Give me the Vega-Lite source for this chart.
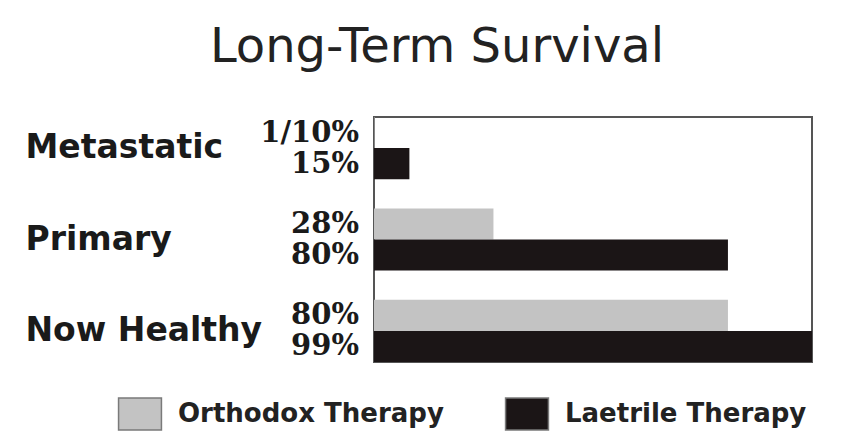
{
  "$schema": "https://vega.github.io/schema/vega-lite/v6.json",
  "width": 438,
  "height": 245,
  "autosize": {"type": "none"},
  "padding": {"left": 374, "top": 117, "right": 31, "bottom": 82},
  "background": "#ffffff",
  "title": {
    "text": "Long-Term Survival",
    "font": "DejaVu Sans",
    "fontSize": 48,
    "fontWeight": "normal",
    "color": "#222222",
    "anchor": "middle",
    "frame": "group",
    "dx": -156,
    "dy": 45,
    "baseline": "alphabetic",
    "offset": 52
  },
  "config": {
    "view": {"stroke": "#555555", "strokeWidth": 2},
    "legend": {"padding": 0}
  },
  "data": {
    "values": [
      {"category": "Metastatic", "therapy": "Orthodox Therapy", "value": 0.1, "label": "1/10%"},
      {"category": "Metastatic", "therapy": "Laetrile Therapy", "value": 8, "label": "15%"},
      {"category": "Primary", "therapy": "Orthodox Therapy", "value": 27, "label": "28%"},
      {"category": "Primary", "therapy": "Laetrile Therapy", "value": 80, "label": "80%"},
      {"category": "Now Healthy", "therapy": "Orthodox Therapy", "value": 80, "label": "80%"},
      {"category": "Now Healthy", "therapy": "Laetrile Therapy", "value": 99, "label": "99%"}
    ]
  },
  "encoding": {
    "y": {
      "field": "category",
      "type": "nominal",
      "sort": ["Metastatic", "Primary", "Now Healthy"],
      "scale": {"paddingInner": 0.32, "paddingOuter": 0},
      "axis": {
        "title": null,
        "domain": false,
        "ticks": false,
        "labelAlign": "left",
        "labelBaseline": "middle",
        "labelPadding": 349,
        "labelLimit": 400,
        "labelFont": "DejaVu Sans",
        "labelFontWeight": "bold",
        "labelFontSize": 33,
        "labelColor": "#1a1a1a"
      }
    },
    "yOffset": {
      "field": "therapy",
      "type": "nominal",
      "sort": ["Orthodox Therapy", "Laetrile Therapy"]
    }
  },
  "layer": [
    {
      "mark": {"type": "bar"},
      "encoding": {
        "x": {
          "field": "value",
          "type": "quantitative",
          "scale": {"domain": [0, 99], "nice": false},
          "axis": null
        },
        "color": {
          "field": "therapy",
          "type": "nominal",
          "scale": {
            "domain": ["Orthodox Therapy", "Laetrile Therapy"],
            "range": ["#c3c3c3", "#1b1516"]
          },
          "legend": {
            "orient": "none",
            "legendX": -251,
            "legendY": 280,
            "direction": "horizontal",
            "title": null,
            "symbolType": "M-1.34,-1H1.34V1H-1.34Z",
            "symbolSize": 1024,
            "symbolStrokeColor": "#7a7a7a",
            "symbolStrokeWidth": 1.5,
            "symbolOpacity": 1,
            "labelFont": "DejaVu Sans",
            "labelFontWeight": "bold",
            "labelFontSize": 26,
            "labelColor": "#222222",
            "labelOffset": 21,
            "labelLimit": 400,
            "columnPadding": 58
          }
        }
      }
    },
    {
      "mark": {
        "type": "text",
        "align": "right",
        "baseline": "middle",
        "dx": -15,
        "font": "DejaVu Serif",
        "fontWeight": "bold",
        "fontSize": 29,
        "color": "#1a1a1a"
      },
      "encoding": {
        "x": {"datum": 0},
        "text": {"field": "label"}
      }
    }
  ]
}
